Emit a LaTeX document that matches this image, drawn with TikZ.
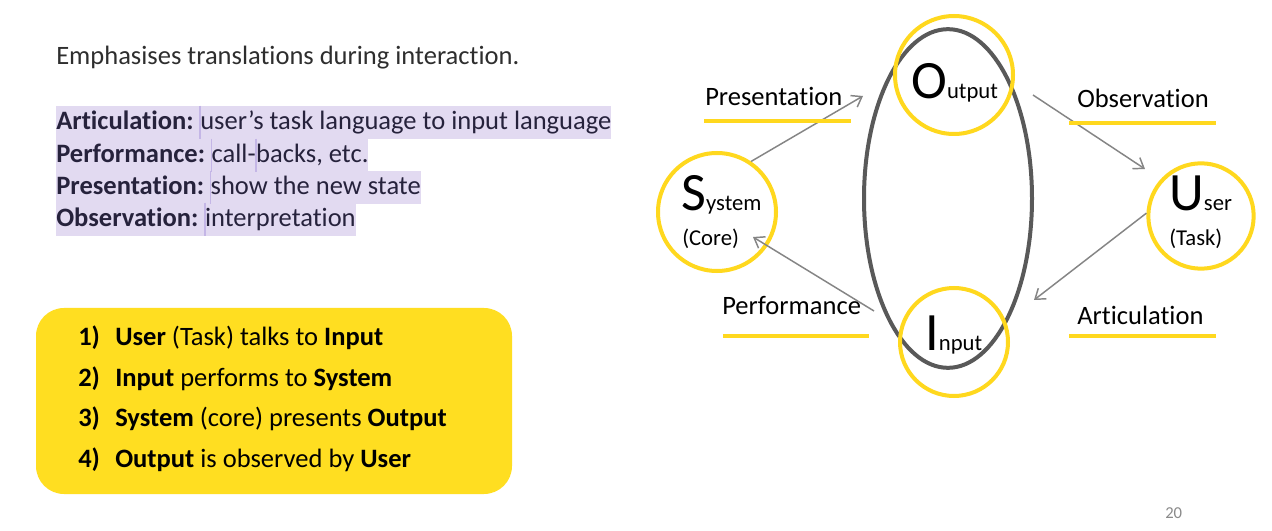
\documentclass[tikz,border=0pt]{standalone}
\usepackage{fontspec}
\setmainfont[Ligatures=NoCommon]{Carlito}
\usetikzlibrary{arrows.meta,shapes.geometric}

\definecolor{ringyellow}{HTML}{FFD81E}
\definecolor{noteyellow}{HTML}{FFDE21}
\definecolor{hilite}{HTML}{E2DAF1}
\definecolor{hiliteedge}{HTML}{C4B6E6}
\definecolor{loopgray}{HTML}{595959}
\definecolor{flowgray}{HTML}{858585}
\definecolor{hlink}{HTML}{26223C}
\definecolor{introink}{HTML}{2E2E2E}
\definecolor{pagegray}{HTML}{8A8A8A}

\newcommand\slidefont{\fontsize{19.9}{24}\selectfont}
\newcommand\capfont{\fontsize{40.5}{42}\selectfont}
\newcommand\subfont{\fontsize{17}{20}\selectfont}
\newcommand\wordgap{\kern0.226em}

\begin{document}
\begin{tikzpicture}[x=0.75pt,y=-0.75pt,
  ring/.style={circle,draw=ringyellow,line width=3pt,inner sep=0pt,minimum size=#1},
  loopring/.style={ellipse,draw=loopgray,line width=3pt,inner sep=0pt,
    minimum width=126pt,minimum height=254pt},
  flow/.style={draw=flowgray,line width=1.1pt,
    -{Straight Barb[length=7pt,width=10pt,line width=1.1pt]}},
  uline/.style={draw=ringyellow,line width=3pt},
  lbl/.style={anchor=base west,inner sep=0pt,font=\slidefont,text=black},
  roletext/.style={anchor=base west,inner sep=0pt,text=black},
  hl/.style={anchor=base west,fill=hilite,inner sep=0pt,
    text height=18pt,text depth=6.75pt,font=\slidefont,text=hlink},
  hlsep/.style={draw=hiliteedge,line width=1.2pt},
  item/.style={anchor=base west,inner sep=0pt,font=\slidefont,text=black}
]
\useasboundingbox (0,0) rectangle (1272,531);
\fill[white] (0,0) rectangle (1272,531);

% ---- intro line ----
\node[anchor=base west,inner sep=0pt,font=\slidefont,text=introink] (intro)
  at (56,65) {Emphasises translations during interaction.};

% ---- highlighted definitions ----
\node[hl] (r1a) at (56,130) {\textbf{Articulation:}\wordgap};
\node[hl] (r1b) at (r1a.base east) {user’s task language to input language};
\node[hl] (r2a) at (56,163) {\textbf{Performance:}\wordgap};
\node[hl] (r2b) at (r2a.base east) {call-};
\node[hl] (r2c) at (r2b.base east) {backs, etc.};
\node[hl] (r3a) at (56,195) {\textbf{Presentation:}\wordgap};
\node[hl] (r3b) at (r3a.base east) {show the new state};
\node[hl] (r4a) at (56,227) {\textbf{Observation:}\wordgap};
\node[hl] (r4b) at (r4a.base east) {interpretation};
\foreach \n in {r1b,r2b,r2c,r3b,r4b}
  \draw[hlsep] (\n.north west) -- (\n.south west);

% ---- numbered summary box ----
\node[fill=noteyellow,rounded corners=21pt,inner sep=0pt,
  minimum width=357pt,minimum height=139.5pt] (note) at (274,401) {};
\node[item] (n1) at (78,345) {\textbf{1)}};
\node[item] (t1) at (115,345) {\textbf{User} (Task) talks to \textbf{Input}};
\node[item] (n2) at (78,386) {\textbf{2)}};
\node[item] (t2) at (115,386) {\textbf{Input} performs to \textbf{System}};
\node[item] (n3) at (78,426) {\textbf{3)}};
\node[item] (t3) at (115,426) {\textbf{System} (core) presents \textbf{Output}};
\node[item] (n4) at (78,467) {\textbf{4)}};
\node[item] (t4) at (115,467) {\textbf{Output} is observed by \textbf{User}};

% ---- interaction cycle ----
\node[loopring] (loop) at (948,198.5) {};
\node[ring=88.5pt] (sys) at (717,212) {};
\node[ring=88.5pt] (out) at (954,75) {};
\node[ring=81pt] (inp) at (954,342) {};
\node[ring=79pt] (usr) at (1201,216) {};

\node[roletext] (sysname) at (681,211) {\capfont S\subfont ystem};
\node[roletext,font=\subfont] (syssub) at (682,246) {(Core)};
\node[roletext] (outname) at (911,99) {\capfont O\subfont utput};
\node[roletext] (inpname) at (925,350) {\capfont I\subfont nput};
\node[roletext] (usrname) at (1169,211) {\capfont U\subfont ser};
\node[roletext,font=\subfont] (usrsub) at (1169,246) {(Task)};

% connectors between the stages
\coordinate (presTip) at (863,96);
\coordinate (obsFrom) at (1033,95);
\coordinate (obsTip) at (1145,169);
\coordinate (perfFrom) at (874,311);
\coordinate (perfTip) at (753,237);
\coordinate (artTip) at (1034,300);
\draw[flow] (sys.56) -- (presTip);
\draw[flow] (obsFrom) -- (obsTip);
\draw[flow] (perfFrom) -- (perfTip);
\draw[flow] (usr.177) -- (artTip);

% stage labels with their underlines
\node[lbl] (lpres) at (705,106) {Presentation};
\draw[uline] (704,121) -- (851,121);
\node[lbl] (lobs) at (1077,108) {Observation};
\draw[uline] (1069,123) -- (1216,123);
\node[lbl] (lperf) at (722,315) {Performance};
\draw[uline] (723,336) -- (869,336);
\node[lbl] (lart) at (1077,325) {Articulation};
\draw[uline] (1069,336) -- (1216,336);

% ---- slide number ----
\node[anchor=base west,inner sep=0pt,font=\fontsize{12.5}{14}\selectfont,text=pagegray]
  (pagenum) at (1165,518) {20};
\end{tikzpicture}
\end{document}
